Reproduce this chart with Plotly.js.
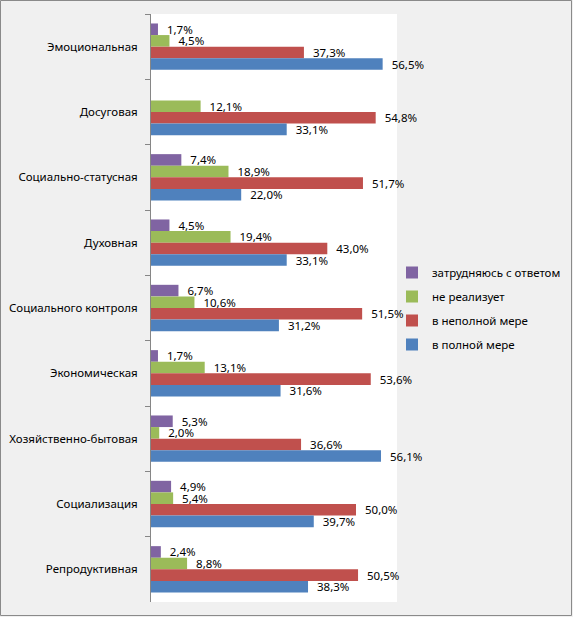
<!DOCTYPE html>
<html>
<head>
<meta charset="utf-8">
<script src="https://cdn.plot.ly/plotly-3.0.1.min.js"></script>
<style>
html,body{margin:0;padding:0;background:#f0f0f0;}
#chart{width:573px;height:617px;}
</style>
</head>
<body>
<div id="chart"></div>
<script>
var categories = ["Эмоциональная","Досуговая","Социально-статусная","Духовная","Социального контроля","Экономическая","Хозяйственно-бытовая","Социализация","Репродуктивная"];
var seriesNames = ["затрудняюсь с ответом","не реализует","в неполной мере","в полной мере"];
var seriesColors = ["#8064A2","#9BBB59","#C0504D","#4F81BD"];
var hardToSay   = [1.7, null, 7.4, 4.5, 6.7, 1.7, 5.3, 4.9, 2.4];
var notRealized = [4.5, 12.1, 18.9, 19.4, 10.6, 13.1, 2.0, 5.4, 8.8];
var partly      = [37.3, 54.8, 51.7, 43.0, 51.5, 53.6, 36.6, 50.0, 50.5];
var fully       = [56.5, 33.1, 22.0, 33.1, 31.2, 31.6, 56.1, 39.7, 38.3];
var seriesValues = [hardToSay, notRealized, partly, fully];

function fmt(v){ return v === null ? "" : "\u00a0\u00a0" + v.toFixed(1).replace(".", ",") + "%"; }

var FONT = "Noto Sans, DejaVu Sans, sans-serif";
var FS = 11.5;
var W = 573, H = 617;
var mL = 151, mR = 176, mT = 14, mB = 15;
var pw = W - mL - mR, ph = H - mT - mB;

var traces = seriesValues.map(function(vals, i){
  return {
    type: "bar",
    orientation: "h",
    name: seriesNames[i],
    y: categories,
    x: vals,
    text: vals.map(fmt),
    textposition: "outside",
    constraintext: "none",
    cliponaxis: false,
    textfont: {family: FONT, size: FS, color: "#000"},
    marker: {color: seriesColors[i]},
    legendgroup: "g" + i,
    hoverinfo: "none"
  };
});

var layout = {
  width: W, height: H,
  margin: {l: mL, r: mR, t: mT, b: mB, pad: 0, autoexpand: false},
  paper_bgcolor: "#f0f0f0",
  plot_bgcolor: "#ffffff",
  barmode: "group",
  bargap: 0.29,
  bargroupgap: 0,
  showlegend: true,
  font: {family: FONT, size: FS, color: "#000"},
  xaxis: {range: [0, 60], visible: false, fixedrange: true, automargin: false},
  yaxis: {
    type: "category",
    autorange: "reversed",
    automargin: false,
    showline: true, linecolor: "#868686", linewidth: 1,
    ticks: "outside", tickson: "boundaries", ticklen: 5, tickcolor: "#868686",
    showgrid: false, zeroline: false,
    ticklabelstandoff: 10,
    tickfont: {family: FONT, size: FS, color: "#000"}
  },
  legend: {
    xref: "container", yref: "container",
    x: 392 / W, y: 0.5, xanchor: "left", yanchor: "middle",
    traceorder: "grouped", tracegroupgap: 5,
    bgcolor: "rgba(0,0,0,0)",
    itemwidth: 30,
    font: {family: FONT, size: FS, color: "#000"}
  },
  shapes: [{
    type: "rect", xref: "paper", yref: "paper",
    x0: (0.5 - mL) / pw, x1: (W - 1.5 - mL) / pw,
    y0: -(mB - 1.5) / ph, y1: 1 + (mT - 0.5) / ph,
    line: {color: "#8a8a8a", width: 1}, fillcolor: "rgba(0,0,0,0)"
  }]
};

Plotly.newPlot("chart", traces, layout, {displayModeBar: false, staticPlot: true});
</script>
</body>
</html>
